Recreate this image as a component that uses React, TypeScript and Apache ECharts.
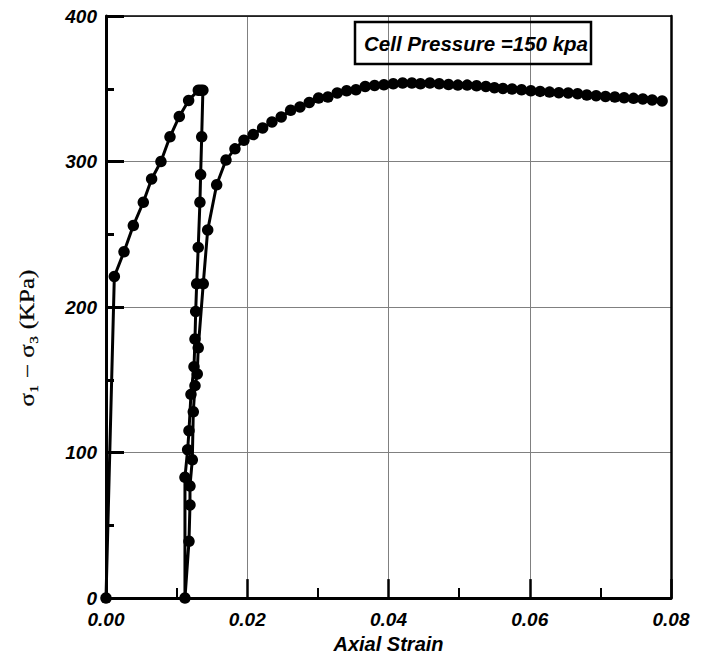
import React, { useEffect, useRef } from "react";
import * as echarts from "echarts";

// Initial loading branch
const loadStrain = [0, 0.00118, 0.00255, 0.00387, 0.00528, 0.00646, 0.00778, 0.00906, 0.01038, 0.0117, 0.01307, 0.0134, 0.01372];
const loadStress = [0, 221, 238, 256, 272, 288, 300, 317, 331, 342, 349, 349, 349];

// Unloading branch
const unloadStrain = [0.01355, 0.0134, 0.0133, 0.01306, 0.01284, 0.0127, 0.0126, 0.01246, 0.01203, 0.01175, 0.01156, 0.01118, 0.01118];
const unloadStress = [317, 291, 272, 241, 216, 197, 178, 159, 140, 115, 102, 83, 0];

// Reloading branch
const reloadStrain = [0.01175, 0.01189, 0.01189, 0.01222, 0.01236, 0.0126, 0.01292, 0.01306, 0.01377, 0.0144, 0.01567];
const reloadStress = [39, 64, 77, 95, 128, 146, 154, 172, 216, 253, 284];

// Main shearing curve
const mainStrain = [
  0.01699, 0.01826, 0.01953, 0.02085, 0.02218, 0.0235, 0.02481, 0.02614, 0.02746, 0.02878,
  0.0301, 0.03142, 0.03274, 0.03407, 0.03539, 0.0367, 0.03803, 0.03935, 0.04067, 0.042,
  0.04331, 0.04453, 0.04586, 0.04718, 0.0485, 0.04982, 0.05114, 0.05247, 0.05379, 0.055,
  0.0562, 0.0575, 0.05884, 0.06016, 0.06147, 0.0628, 0.06412, 0.06544, 0.06677, 0.06808,
  0.0694, 0.07073, 0.07205, 0.07336, 0.07469, 0.07601, 0.07733, 0.07874,
];
const mainStress = [
  301, 308.7, 314.6, 318.5, 323.1, 327.2, 330.6, 335.2, 337.5, 340.6,
  343.6, 344.3, 347.1, 348.6, 349.3, 351.6, 352.3, 352.7, 353.4, 353.9,
  353.9, 353.4, 353.9, 353.4, 352.9, 352.5, 352.5, 352, 351.6, 350.7,
  350.2, 349.8, 349.3, 348.6, 348.2, 347.7, 347.3, 347.1, 346.6, 345.7,
  345.2, 344.7, 344.3, 343.8, 343.4, 343, 342.3, 341.6,
];

const xTicks = { min: 0, max: 0.08, interval: 0.02 };
const yTicks = { min: 0, max: 400, interval: 100 };

const titleText = "Cell Pressure =150 kpa";
const xName = "Axial Strain";
const yName = "σ₁ − σ₃ (KPa)";

const SANS = '"Liberation Sans", Arial, sans-serif';
const SERIF = '"Liberation Serif", "DejaVu Serif", serif';

function pairs(xs: number[], ys: number[]) {
  return xs.map((x, i) => [x, ys[i]]);
}

export default function App() {
  const ref = useRef<HTMLDivElement>(null);
  useEffect(() => {
    if (!ref.current) return;
    const chart = echarts.init(ref.current, undefined, { renderer: "svg" });
    const data = [
      ...pairs(loadStrain, loadStress),
      ...pairs(unloadStrain, unloadStress),
      ...pairs(reloadStrain, reloadStress),
      ...pairs(mainStrain, mainStress),
    ];
    const labelStyle = {
      fontFamily: SANS,
      fontWeight: "bold" as const,
      fontStyle: "italic" as const,
      fontSize: 19,
      color: "#000",
    };
    chart.setOption({
      animation: false,
      backgroundColor: "#fff",
      grid: { left: 106, right: 34, top: 16, bottom: 58 },
      xAxis: [
        {
          type: "value",
          ...xTicks,
          name: xName,
          nameLocation: "middle",
          nameGap: 33,
          nameTextStyle: { ...labelStyle, fontSize: 20 },
          axisLine: { onZero: false, lineStyle: { color: "#000", width: 3 } },
          axisTick: { inside: true, length: 19, lineStyle: { color: "#000", width: 2.5 } },
          minorTick: { show: true, splitNumber: 2, length: 10, lineStyle: { color: "#000", width: 2 } },
          axisLabel: { ...labelStyle, margin: 12, formatter: (v: number) => v.toFixed(2) },
          splitLine: { show: true, lineStyle: { color: "#808080", width: 1 } },
        },
        {
          type: "value",
          position: "top",
          ...xTicks,
          axisLine: { show: true, onZero: false, lineStyle: { color: "#000", width: 1.5 } },
          axisTick: { show: false },
          axisLabel: { show: false },
          splitLine: { show: false },
        },
      ],
      yAxis: [
        {
          type: "value",
          ...yTicks,
          axisLine: { show: true, onZero: false, lineStyle: { color: "#000", width: 3 } },
          axisTick: { show: true, inside: true, length: 18, lineStyle: { color: "#000", width: 3 } },
          minorTick: { show: true, splitNumber: 2, length: 8, lineStyle: { color: "#000", width: 3 } },
          axisLabel: { ...labelStyle, margin: 9 },
          splitLine: { show: true, lineStyle: { color: "#808080", width: 1 } },
        },
        {
          type: "value",
          position: "right",
          ...yTicks,
          axisLine: { show: true, onZero: false, lineStyle: { color: "#000", width: 2.5 } },
          axisTick: { show: false },
          axisLabel: { show: false },
          splitLine: { show: false },
        },
      ],
      graphic: [
        {
          type: "rect",
          shape: { x: 355, y: 22, width: 236, height: 42 },
          style: { fill: "none", stroke: "#000", lineWidth: 2.5 },
          z: 10,
        },
        {
          type: "text",
          x: 476,
          y: 43,
          z: 10,
          style: {
            text: titleText,
            fill: "#000",
            font: `italic bold 20.5px ${SANS}`,
            align: "center",
            verticalAlign: "middle",
          },
        },
        {
          type: "text",
          x: 27,
          y: 338,
          rotation: Math.PI / 2,
          scaleX: 1.25,
          z: 10,
          style: {
            text: yName,
            fill: "#000",
            stroke: "#000",
            lineWidth: 0.3,
            opacity: 0.99,
            font: `20px ${SERIF}`,
            align: "center",
            verticalAlign: "middle",
          },
        },
      ],
      series: [
        {
          type: "line",
          data,
          clip: false,
          symbol: "circle",
          symbolSize: 11.5,
          itemStyle: { color: "#000" },
          lineStyle: { color: "#000", width: 3 },
        },
      ],
    });
    return () => chart.dispose();
  }, []);
  return <div ref={ref} style={{ position: "fixed", left: 0, top: 0, width: 705, height: 659 }} />;
}
